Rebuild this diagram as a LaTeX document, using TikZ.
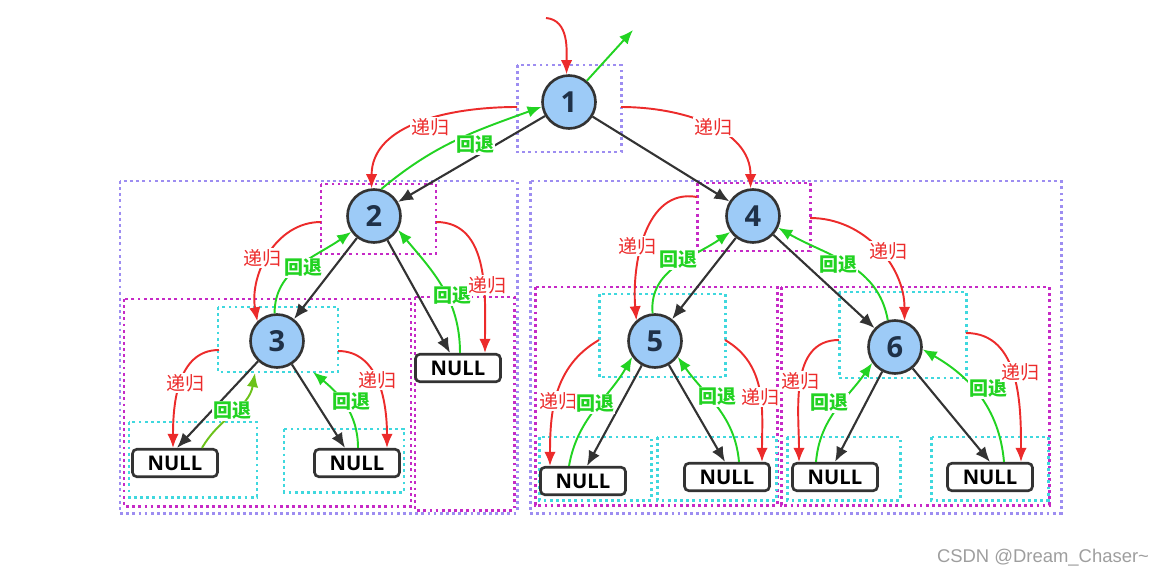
\documentclass[tikz,border=0pt]{standalone}
\usepackage{fontspec}
\setmainfont{Open Sans}
\newfontfamily\cjkfont{Noto Sans CJK SC}
\newfontfamily\markfont{Liberation Sans}
\usetikzlibrary{arrows.meta,calc}

\begin{document}
\begin{tikzpicture}[
  x=0.02cm, y=0.02cm,
  tnode/.style={circle, draw=Ink, fill=NodeBlue, line width=1.5pt,
    minimum size=1.06cm, inner sep=0pt, text=NumInk,
    font=\fontsize{16.5}{18}\selectfont\bfseries},
  nullbox/.style={draw=Ink, fill=white, line width=1.5pt, rounded corners=2.5pt,
    minimum width=1.7cm, minimum height=0.55cm, inner sep=0pt,
    font=\fontsize{11.5}{13}\selectfont\bfseries},
  link/.style={draw=Ink, line width=1.2pt, -{Latex[length=8.5pt,width=7pt]}},
  rec/.style={draw=RecRed, line width=1.1pt, -{Latex[length=8pt,width=6.5pt]}},
  back/.style={draw=BackGreen, line width=1.1pt, -{Latex[length=8pt,width=6.5pt]}},
  rlbl/.style={text=RecRed, fill=white, inner sep=0.6pt,
    font=\cjkfont\fontsize{10.8}{12}\selectfont},
  glbl/.style={text=BackGreen, fill=white, inner sep=0.6pt,
    font=\cjkfont\bfseries\fontsize{10.8}{12}\selectfont},
  dotbox/.style={line width=1.7pt, dash pattern=on 1.6pt off 1.9pt},
]
\definecolor{Ink}{HTML}{333333}
\definecolor{NumInk}{HTML}{1F3148}
\definecolor{NodeBlue}{HTML}{9DCBF7}
\definecolor{RecRed}{HTML}{EC2B2B}
\definecolor{BackGreen}{HTML}{22D322}
\definecolor{Olive}{HTML}{6CC21A}
\definecolor{Lav}{HTML}{9D8DF1}
\definecolor{Mag}{HTML}{C62AC6}
\definecolor{Cya}{HTML}{3FD8DE}

\useasboundingbox (0,0) rectangle (1166,-578);

% ---- dotted frames ----
\foreach \xa/\ya/\xb/\yb in {517/65/621/152, 120/181/517/513, 530/181/1061/513}
  \draw[dotbox, Lav] (\xa,-\ya) rectangle (\xb,-\yb);
\foreach \xa/\ya/\xb/\yb in {321/184/436/254, 697/183/810/251, 124/299/411/506,
    415/297/514/510, 535/287/777/505, 781/287/1049/505}
  \draw[dotbox, Mag] (\xa,-\ya) rectangle (\xb,-\yb);
\foreach \xa/\ya/\xb/\yb in {218/307/338/372, 129/422/257/497, 284/429/404/492,
    599/294/725/377, 539/437/651/500, 657/437/776/500,
    839/292/966/378, 787/437/900/500, 931/437/1048/500}
  \draw[dotbox, Cya] (\xa,-\ya) rectangle (\xb,-\yb);

% ---- tree ----
\node[tnode] (n1) at (569,-102) {1};
\node[tnode] (n2) at (374,-216) {2};
\node[tnode] (n3) at (277,-341) {3};
\node[tnode] (n4) at (753,-216) {4};
\node[tnode] (n5) at (655,-341) {5};
\node[tnode] (n6) at (895,-347) {6};
\node[nullbox] (null3l) at (175,-463) {NULL};
\node[nullbox] (null3r) at (357,-463) {NULL};
\node[nullbox] (null2r) at (458,-368) {NULL};
\node[nullbox] (null5l) at (583,-481) {NULL};
\node[nullbox] (null5r) at (727,-477) {NULL};
\node[nullbox] (null6l) at (835,-477) {NULL};
\node[nullbox] (null6r) at (990,-477) {NULL};

\draw[link] (n1) -- (n2);
\draw[link] (n1) -- (n4);
\draw[link] (n2) -- (n3);
\draw[link] (n2) -- ($(null2r.north)+(-8,0)$);
\draw[link] (n3) -- ($(null3l.north)+(2,0)$);
\draw[link] (n3) -- ($(null3r.north)+(-12,0)$);
\draw[link] (n4) -- (n5);
\draw[link] (n4) -- (n6);
\draw[link] (n5) -- ($(null5l.north)+(4,0)$);
\draw[link] (n5) -- ($(null5r.north)+(-2,0)$);
\draw[link] (n6) -- (null6l.north);
\draw[link] (n6) -- (null6r.north);

% ---- recursion / return paths ----
\coordinate (s0) at (546,-18);
\coordinate (e0) at (633,-30);
\coordinate (s12) at (517,-107);
\coordinate (s14) at (621,-107);
\coordinate (s23) at (321,-222);
\coordinate (s2r) at (436,-222);
\coordinate (s3l) at (219,-350);
\coordinate (s3r) at (338,-351);
\coordinate (g3l) at (255,-373);
\coordinate (g3r) at (313,-372);
\coordinate (s45) at (697,-197);
\coordinate (s46) at (810,-218);
\coordinate (s5l) at (599,-340);
\coordinate (s5r) at (725,-340);
\coordinate (s6l) at (839,-340);
\coordinate (s6r) at (966,-333);

\draw[rec] (s0) to[out=-5,in=90] (n1.95);
\draw[back] (n1.50) -- (e0);
\draw[rec] (s12) to[out=180,in=90] (n2.95);
\draw[back] (n2.75) to[out=40,in=200] (n1.190);
\draw[rec] (s14) to[out=0,in=90] (n4.95);
\draw[rec] (s23) to[out=180,in=100] (n3.135);
\draw[back] (n3.95) to[out=90,in=215] (n2.215);
\draw[rec] (s2r) to[out=0,in=90] ($(null2r.north)+(27,0)$);
\draw[back] ($(null2r.north)+(2,0)$) to[out=90,in=-50] (n2.-30);
\draw[rec] (s3l) to[out=180,in=90] ($(null3l.north)+(-2,0)$);
\draw[back, Olive] ($(null3l.north)+(27,0)$) to[out=60,in=-100] (g3l);
\draw[rec] (s3r) to[out=0,in=90] ($(null3r.north)+(30,0)$);
\draw[back] ($(null3r.north)+(1,0)$) to[out=90,in=-40] (g3r);
\draw[rec] (s45) to[out=170,in=95] (n5.132);
\draw[back] (n5.95) to[out=95,in=215] (n4.215);
\draw[rec] (s46) to[out=0,in=90] (n6.70);
\draw[back] (n6.105) to[out=100,in=-30] (n4.-25);
\draw[rec] (s5l) to[out=210,in=90] ($(null5l.north)+(-33,0)$);
\draw[back] ($(null5l.north)+(-14,0)$) to[out=80,in=240] (n5.215);
\draw[rec] (s5r) to[out=-30,in=90] ($(null5r.north)+(35,0)$);
\draw[back] ($(null5r.north)+(12,0)$) to[out=95,in=-55] (n5.-35);
\draw[rec] (s6l) to[out=180,in=90] ($(null6l.north)+(-36,0)$);
\draw[back] ($(null6l.north)+(-19,0)$) to[out=85,in=235] (n6.215);
\draw[rec] (s6r) to[out=0,in=90] ($(null6r.north)+(31,0)$);
\draw[back] ($(null6r.north)+(14,0)$) to[out=95,in=-30] (n6.-5);

% ---- labels ----
\node[rlbl] (t12) at (430,-127) {递归};
\node[glbl] (b12) at (475,-145) {回退};
\node[rlbl] (t14) at (713,-127) {递归};
\node[rlbl] (t23) at (262,-258) {递归};
\node[glbl] (b23) at (303,-268) {回退};
\node[glbl] (b2r) at (452,-296) {回退};
\node[rlbl] (t2r) at (487,-285) {递归};
\node[rlbl] (t3l) at (185,-383) {递归};
\node[glbl] (b3l) at (232,-411) {回退};
\node[rlbl] (t3r) at (377,-380) {递归};
\node[glbl] (b3r) at (351,-402) {回退};
\node[rlbl] (t45) at (637,-246) {递归};
\node[glbl] (b45) at (678,-260) {回退};
\node[rlbl] (t46) at (888,-251) {递归};
\node[glbl] (b46) at (838,-265) {回退};
\node[rlbl] (t5l) at (558,-401) {递归};
\node[glbl] (b5l) at (595,-404) {回退};
\node[glbl] (b5r) at (717,-397) {回退};
\node[rlbl] (t5r) at (760,-397) {递归};
\node[rlbl] (t6l) at (800,-381) {递归};
\node[glbl] (b6l) at (829,-403) {回退};
\node[glbl] (b6r) at (988,-389) {回退};
\node[rlbl] (t6r) at (1020,-372) {递归};

\node[text=black!38, font=\markfont\fontsize{10.5}{12}\selectfont] (wm) at (1043,-558)
  {CSDN @Dream\_Chaser\textasciitilde};
\end{tikzpicture}
\end{document}
